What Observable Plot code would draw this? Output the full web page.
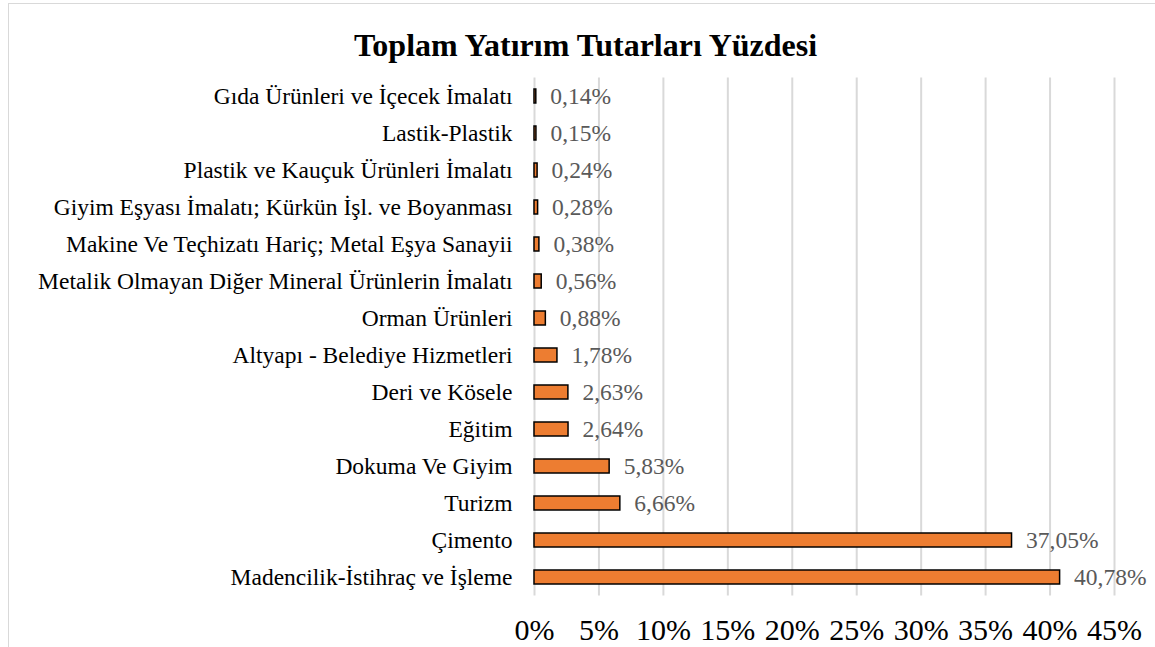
<!DOCTYPE html>
<html>
<head>
<meta charset="utf-8">
<script src="https://cdn.jsdelivr.net/npm/d3@7"></script>
<script src="https://cdn.jsdelivr.net/npm/@observablehq/plot@0.6"></script>
<style>
  html, body { margin: 0; padding: 0; background: #fff; overflow: hidden; }
  #wrap { position: relative; width: 1155px; height: 647px; }
  #border { position: absolute; left: 8px; top: 3px; width: 1200px; height: 700px; border: 1px solid #d9d9d9; box-sizing: border-box; }
  #chart { position: absolute; left: 0; top: 0; }
  #chart svg, #chart svg text { font-family: "Liberation Serif", "Times New Roman", serif !important; }
</style>
</head>
<body>
<div id="wrap"><div id="border"></div><div id="chart"></div></div>
<script>
const title = "Toplam Yatırım Tutarları Yüzdesi";
const categories = [
  "Gıda Ürünleri ve İçecek İmalatı",
  "Lastik-Plastik",
  "Plastik ve Kauçuk Ürünleri İmalatı",
  "Giyim Eşyası İmalatı; Kürkün İşl. ve Boyanması",
  "Makine Ve Teçhizatı Hariç; Metal Eşya Sanayii",
  "Metalik Olmayan Diğer Mineral Ürünlerin İmalatı",
  "Orman Ürünleri",
  "Altyapı - Belediye Hizmetleri",
  "Deri ve Kösele",
  "Eğitim",
  "Dokuma Ve Giyim",
  "Turizm",
  "Çimento",
  "Madencilik-İstihraç ve İşleme"
];
const values = [0.14, 0.15, 0.24, 0.28, 0.38, 0.56, 0.88, 1.78, 2.63, 2.64, 5.83, 6.66, 37.05, 40.78];
const xTicks = [0, 5, 10, 15, 20, 25, 30, 35, 40, 45];

const data = categories.map((c, i) => ({category: c, value: values[i]}));
const fmt = v => v.toFixed(2).replace(".", ",") + "%";
const serif = "'Liberation Serif', 'Times New Roman', serif";

const plot = Plot.plot({
  width: 1155,
  height: 647,
  marginLeft: 534,
  marginRight: 41,
  marginTop: 77.5,
  marginBottom: 51.5,
  style: {fontFamily: serif, background: "transparent"},
  x: {domain: [0, 45], ticks: xTicks, tickFormat: d => d + "%", label: null},
  y: {domain: categories, paddingInner: 0.62, paddingOuter: 0.31, label: null},
  marks: [
    Plot.gridX(xTicks, {stroke: "#d9d9d9", strokeOpacity: 1, strokeWidth: 2}),
    Plot.axisX({ticks: xTicks, tickFormat: d => d + "%", tickSize: 0, tickPadding: 23, fontSize: 30, fill: "#000", label: null, fontFamily: serif}),
    Plot.axisY({tickSize: 0, tickPadding: 22, fontSize: 23.5, fill: "#000", label: null, fontFamily: serif}),
    Plot.barX(data, {x: "value", y: "category", fill: "#ED7D31", stroke: "#000", strokeWidth: 1.5}),
    Plot.text(data, {x: "value", y: "category", text: d => fmt(d.value), textAnchor: "start", dx: 14, fontSize: 23.5, fill: "#595959", fontFamily: serif}),
    Plot.text([title], {frameAnchor: "top", dy: -45, dx: -239, fontSize: 32, fontWeight: "bold", fill: "#000", textAnchor: "middle", fontFamily: serif})
  ]
});
document.getElementById("chart").appendChild(plot);
</script>
</body>
</html>
